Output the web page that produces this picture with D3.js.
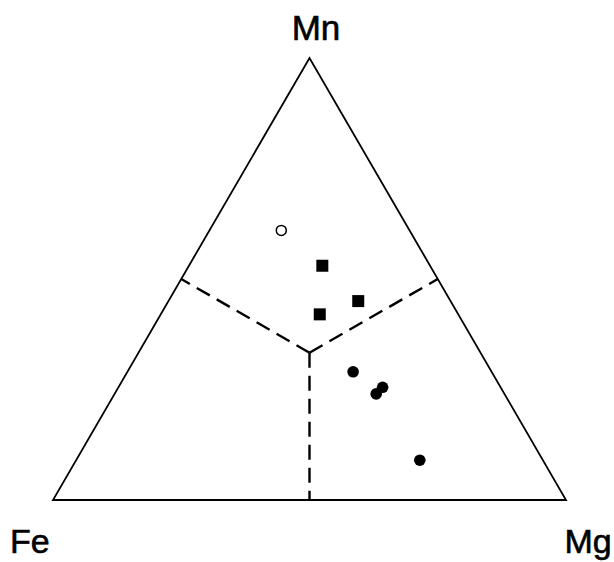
<!DOCTYPE html>
<html>
<head>
<meta charset="utf-8">
<script src="https://cdn.jsdelivr.net/npm/d3@7"></script>
<style>
html,body{margin:0;padding:0;background:#fff;}
svg{display:block;}
</style>
</head>
<body>
<svg id="chart" width="614" height="562"></svg>
<script>
// Ternary data (percent): Fe, Mg, Mn
const vertexLabels = ["Fe", "Mg", "Mn"];
const feValues = [25, 21, 18, 27, 27, 23, 25, 24];
const mgValues = [14, 26, 37, 31, 44, 51.5, 51, 67];
const mnValues = [61, 53, 45, 42, 29, 25.5, 24, 9];
const symbols  = ["openCircle", "square", "square", "square", "circle", "circle", "circle", "circle"];
// Field boundaries: from centroid to edge midpoints (Fe, Mg, Mn)
const boundaryStart = [100/3, 100/3, 100/3];
const boundaryEnds = [[50, 0, 50], [0, 50, 50], [50, 50, 0]];

const svg = d3.select("#chart");
const xScale = d3.scaleLinear().domain([0, 100]).range([53, 566]);
const yScale = d3.scaleLinear().domain([0, 100]).range([500, 58]);
function proj(fe, mg, mn) {
  const s = fe + mg + mn;
  const m = mg / s * 100, n = mn / s * 100;
  return [xScale(m + n * 0.5), yScale(n)];
}

// triangle outline
const corners = [proj(100,0,0), proj(0,100,0), proj(0,0,100)];
svg.append("path")
  .attr("d", d3.line()(corners) + "Z")
  .attr("fill", "none").attr("stroke", "#000").attr("stroke-width", 1.8)
  .attr("stroke-linejoin", "miter");

// dashed boundaries
const c = proj(...boundaryStart);
boundaryEnds.forEach(e => {
  svg.append("path")
    .attr("d", d3.line()([c, proj(...e)]))
    .attr("fill", "none").attr("stroke", "#000").attr("stroke-width", 2.4)
    .attr("stroke-dasharray", "15,8");
});

// points
const pts = feValues.map((fe, i) => ({p: proj(fe, mgValues[i], mnValues[i]), s: symbols[i]}));
pts.forEach(d => {
  if (d.s === "square") {
    svg.append("rect").attr("x", d.p[0] - 6).attr("y", d.p[1] - 6)
      .attr("width", 12).attr("height", 12).attr("fill", "#000");
  } else if (d.s === "circle") {
    svg.append("circle").attr("cx", d.p[0]).attr("cy", d.p[1]).attr("r", 5.8).attr("fill", "#000");
  } else {
    svg.append("circle").attr("cx", d.p[0]).attr("cy", d.p[1]).attr("r", 5)
      .attr("fill", "#fff").attr("stroke", "#000").attr("stroke-width", 1.5);
  }
});

// vertex labels
const font = "'Liberation Sans', Arial, sans-serif";
function label(t, x, y, anchor, size) {
  svg.append("text").text(t).attr("x", x).attr("y", y)
    .attr("text-anchor", anchor).attr("font-family", font).attr("font-size", size)
    .attr("fill", "#000").attr("stroke", "#000").attr("stroke-width", 0.6);
}
label(vertexLabels[2], 316, 40, "middle", 35);
label(vertexLabels[0], 10, 553, "start", 34);
label(vertexLabels[1], 564.5, 553, "start", 34);
</script>
</body>
</html>
